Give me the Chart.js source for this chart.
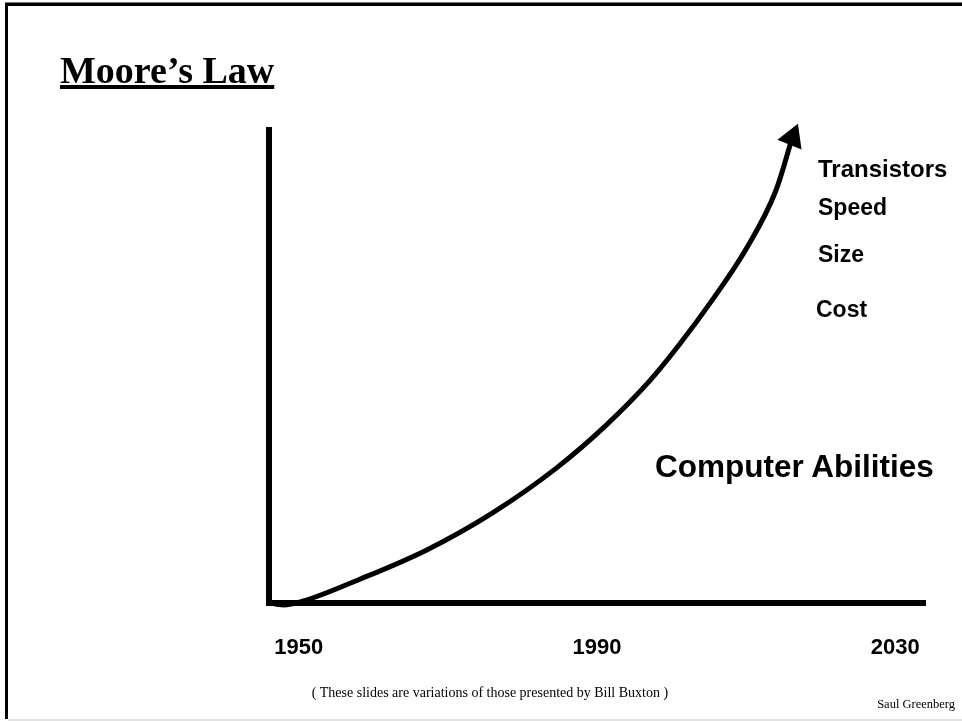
<!DOCTYPE html>
<html>
<head>
<meta charset="utf-8">
<script src="https://cdn.jsdelivr.net/npm/chart.js@4/dist/chart.umd.min.js"></script>
<style>
  html, body { margin: 0; padding: 0; background: #fff; }
  #slide { position: relative; width: 962px; height: 721px; overflow: hidden; background: #fff; }
  #frame { position: absolute; left: 5px; top: 3px; width: 960px; height: 716px;
           border-top: 3px solid #000; border-left: 3px solid #000; box-sizing: border-box; }
  #frametop { position: absolute; left: 5px; top: 2px; width: 960px; height: 1px; background: #777; }
  #bottomline { position: absolute; left: 8px; top: 719px; width: 960px; height: 2px; background: #e2e2e2; }
  canvas { position: absolute; left: 0; top: 0; }
  .t { position: absolute; white-space: nowrap; line-height: 1; color: #000; }
  .sans { font-family: "Liberation Sans", Arial, sans-serif; font-weight: bold; }
  .serif { font-family: "Liberation Serif", "Times New Roman", serif; }
  #title { left: 60px; top: 51px; font-size: 38px; font-weight: bold;
           text-decoration: underline; text-decoration-thickness: 4px; text-underline-offset: 2px; }
</style>
</head>
<body>
<div id="slide">
  <div id="frametop"></div>
  <div id="frame"></div>
  <div id="bottomline"></div>
  <canvas id="c" width="962" height="721"></canvas>
  <div id="title" class="t serif">Moore’s Law</div>
  <div class="t sans" style="left:818px;top:157px;font-size:24px;">Transistors</div>
  <div class="t sans" style="left:818px;top:196px;font-size:23px;">Speed</div>
  <div class="t sans" style="left:818px;top:243px;font-size:23px;">Size</div>
  <div class="t sans" style="left:816px;top:298px;font-size:23px;">Cost</div>
  <div class="t sans" style="left:655px;top:451px;font-size:31.5px;">Computer Abilities</div>
  <div class="t serif" style="left:0;width:980px;text-align:center;top:686px;font-size:14px;">( These slides are variations of those presented by Bill Buxton )</div>
  <div class="t serif" style="right:7px;top:698px;font-size:12.5px;">Saul Greenberg</div>
</div>
<script>
// Data
const years = [1946.0, 1947.9, 1950.5, 1958.1, 1967.1, 1976.0, 1984.5, 1991.2, 1997.0, 2001.0, 2005.5, 2010.0, 2014.0, 2016.2];
const abilities = [0, -0.5, 0.3, 4.9, 11.1, 19.0, 28.4, 37.5, 46.8, 54.5, 64.1, 74.8, 87.2, 98.4];
const tickYears = [1950, 1990, 2030];

const points = years.map((x, i) => ({ x: x, y: abilities[i] }));
const lastIndex = points.length - 1;

new Chart(document.getElementById('c'), {
  type: 'line',
  data: {
    datasets: [{
      data: points,
      borderColor: '#000',
      borderWidth: 5,
      borderCapStyle: 'round',
      cubicInterpolationMode: 'monotone',
      fill: false,
      clip: false,
      pointStyle: 'triangle',
      pointRotation: 22,
      pointRadius: (ctx) => ctx.dataIndex === lastIndex ? 15 : 0,
      pointBackgroundColor: '#000',
      pointBorderColor: '#000',
      pointBorderWidth: 0
    }]
  },
  options: {
    responsive: false,
    animation: false,
    events: [],
    layout: { padding: { left: 269, top: 130, right: 37, bottom: 28 } },
    plugins: { legend: { display: false }, tooltip: { enabled: false }, title: { display: false } },
    scales: {
      x: {
        type: 'linear',
        min: 1946,
        max: 2034,
        afterBuildTicks: (scale) => { scale.ticks = tickYears.map(v => ({ value: v })); },
        grid: { display: false, drawTicks: false },
        border: { display: true, width: 6, color: '#000' },
        ticks: {
          color: '#000',
          padding: 32,
          maxRotation: 0,
          font: { family: '"Liberation Sans", Arial, sans-serif', size: 22, weight: 'bold' },
          callback: (v) => String(v)
        }
      },
      y: {
        type: 'linear',
        min: 0,
        max: 100,
        grid: { display: false, drawTicks: false },
        border: { display: true, width: 6, color: '#000' },
        ticks: { display: false }
      }
    }
  }
});
</script>
</body>
</html>
